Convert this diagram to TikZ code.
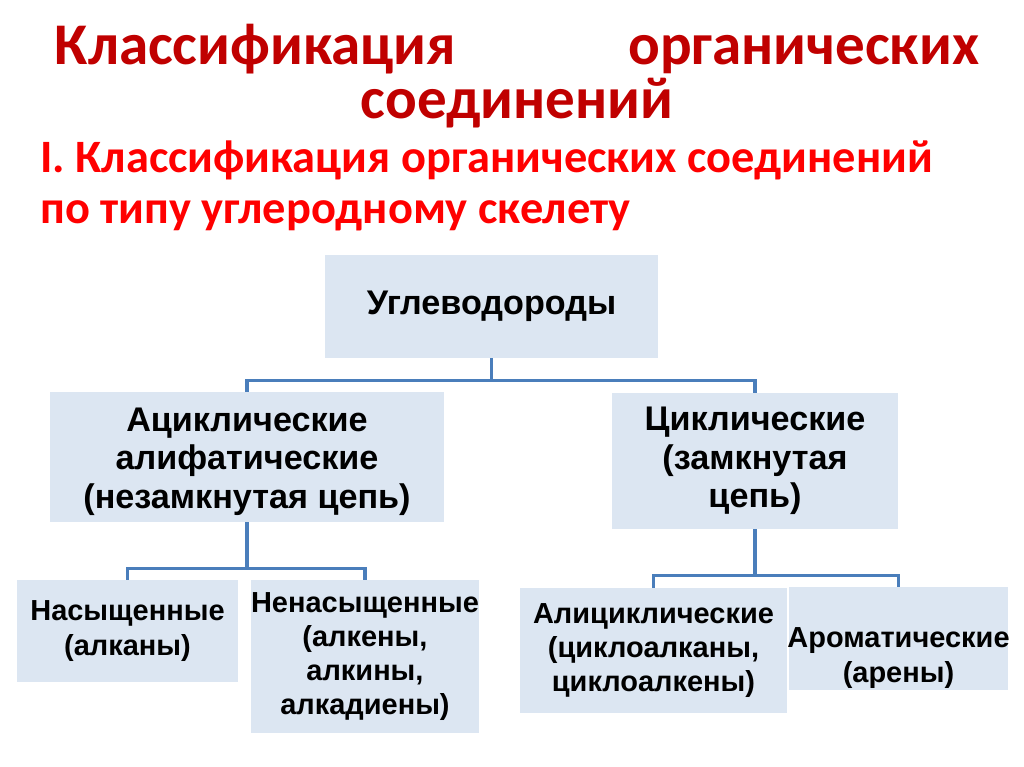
\documentclass[tikz,border=0pt]{standalone}
\usepackage{fontspec}
\setmainfont{Liberation Sans}
\newfontfamily\headfont{Carlito}
\usetikzlibrary{positioning}

\definecolor{boxblue}{HTML}{DCE6F2}
\definecolor{linkblue}{HTML}{4A7EBB}
\definecolor{titlered}{HTML}{C00000}
\definecolor{subred}{HTML}{FF0000}

\begin{document}
\begin{tikzpicture}[
    x=0.025cm, y=-0.025cm,
    box/.style={fill=boxblue, align=center, inner sep=0pt, font=\fontsize{24.3}{27.4}\selectfont\bfseries},
    leaf/.style={box, font=\fontsize{20.6}{24.3}\selectfont\bfseries},
    link/.style={draw=linkblue, line width=2.2pt}
]
    \useasboundingbox (0,0) rectangle (1024,767);

    % Headings
    \node[text=titlered, align=center, inner sep=0pt,
          font=\headfont\fontsize{42}{38}\selectfont\bfseries] (title) at (517,76)
          {\makebox[23.1cm]{Классификация\hfill органических}\\соединений};
    \node[text=subred, align=left, anchor=north west, inner sep=0pt,
          font=\headfont\fontsize{33}{35.8}\selectfont\bfseries] (sub) at (40,141)
          {I. Классификация органических соединений\\по типу углеродному скелету};

    % Boxes
    \node[box, minimum width=333*0.025cm, minimum height=103*0.025cm] (hc) at (491.5,306.5) {Углеводороды};
    \node[box, minimum width=394*0.025cm, minimum height=130*0.025cm] (acyc) at (247,457)
          {\\[-4pt]Ациклические\\алифатические\\(незамкнутая цепь)};
    \node[box, minimum width=286*0.025cm, minimum height=136*0.025cm] (cyc) at (755,461)
          {Циклические\\(замкнутая\\цепь)};
    \node[leaf, minimum width=221*0.025cm, minimum height=102*0.025cm] (sat) at (127.5,631)
          {Насыщенные\\(алканы)};
    \node[leaf, minimum width=226*0.025cm, minimum height=153*0.025cm] (unsat) at (365,656.5)
          {Ненасыщенные\\(алкены,\\алкины,\\алкадиены)};
    \node[leaf, minimum width=267*0.025cm, minimum height=125*0.025cm] (alicyc) at (653.5,650.5)
          {Алициклические\\(циклоалканы,\\циклоалкены)};
    \node[leaf, minimum width=219*0.025cm, minimum height=103*0.025cm] (arom) at (898.5,638.5) {};
    \node[leaf, fill=none] (aromtxt) at (898.5,658) {Ароматические\\(арены)};

    % Tree links
    \draw[link] (hc.south) -- ++(0,22) -| (acyc.north);
    \draw[link] (hc.south) -- ++(0,22) -| (cyc.north);
    \draw[link] (acyc.south) -- ++(0,46) -| (sat.north);
    \draw[link] (acyc.south) -- ++(0,46) -| (unsat.north);
    \draw[link] (cyc.south) -- ++(0,46) -| (alicyc.north);
    \draw[link] (cyc.south) -- ++(0,46) -| (arom.north);

\end{tikzpicture}
\end{document}
